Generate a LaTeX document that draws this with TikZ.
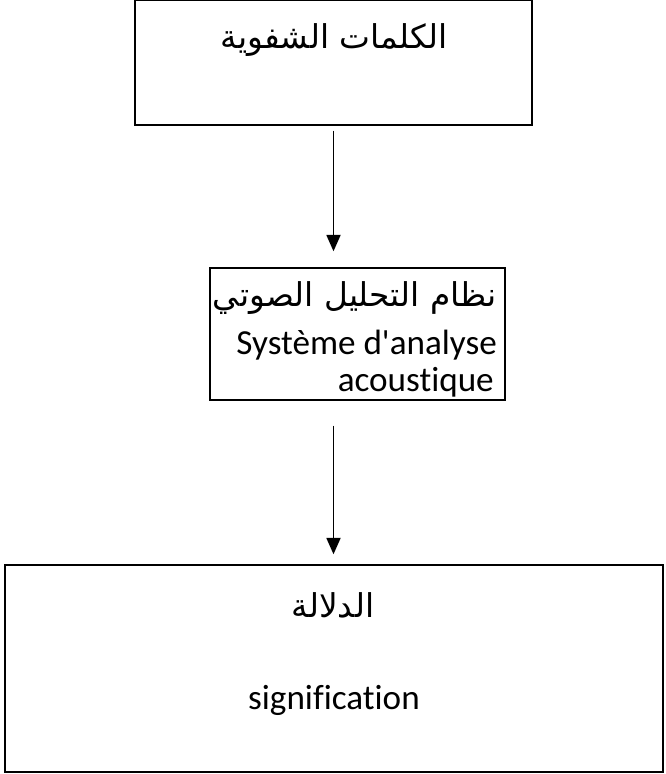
\documentclass[tikz,border=0pt]{standalone}
\usepackage{fontspec}
\setmainfont{Carlito}[Ligatures=NoCommon]
\newfontfamily\arabicfont[Script=Arabic]{DejaVu Sans}
\TeXXeTstate=1
\usetikzlibrary{arrows.meta,positioning}

\begin{document}
\begin{tikzpicture}[x=0.03cm, y=-0.03cm,
    box/.style={draw, line width=1.2pt, inner sep=0pt},
    link/.style={line width=1.4pt, -{Triangle[width=12pt,length=14pt]}},
    latintext/.style={font=\fontsize{30}{36}\selectfont, inner sep=0pt},
    arabictext/.style={font=\fontsize{28}{34}\selectfont\arabicfont, inner sep=0pt}]
    \useasboundingbox (0,0) rectangle (666,774);

    % Boxes
    \node[box, minimum width=11.91cm, minimum height=3.75cm] (words) at (333.5,62.5) {};
    \node[box, minimum width=8.85cm, minimum height=3.96cm] (analysis) at (357.5,334) {};
    \node[box, minimum width=19.74cm, minimum height=6.21cm] (meaning) at (334,668.5) {};

    % Labels
    \node[arabictext] (wordslabel) at (334,40) {\beginR الكلمات الشفوية\endR};
    \node[arabictext, anchor=east] (analysisar) at (497,298) {\beginR نظام التحليل الصوتي\endR};
    \node[latintext, anchor=east] (analysisfr) at (497,345) {Système d\textquotesingle analyse};
    \node[latintext, anchor=east] (analysisfr2) at (494,382) {acoustique};
    \node[arabictext] (meaningar) at (333,605) {\beginR الدلالة\endR};
    \node[latintext] (meaningfr) at (334,700) {signification};

    % Arrows
    \draw[link, shorten <=0.15cm, shorten >=0.48cm] (words.south) -- (words.south |- analysis.north);
    \draw[link, shorten <=0.75cm, shorten >=0.3cm] (words.south |- analysis.south) -- (words.south |- meaning.north);
\end{tikzpicture}
\end{document}
